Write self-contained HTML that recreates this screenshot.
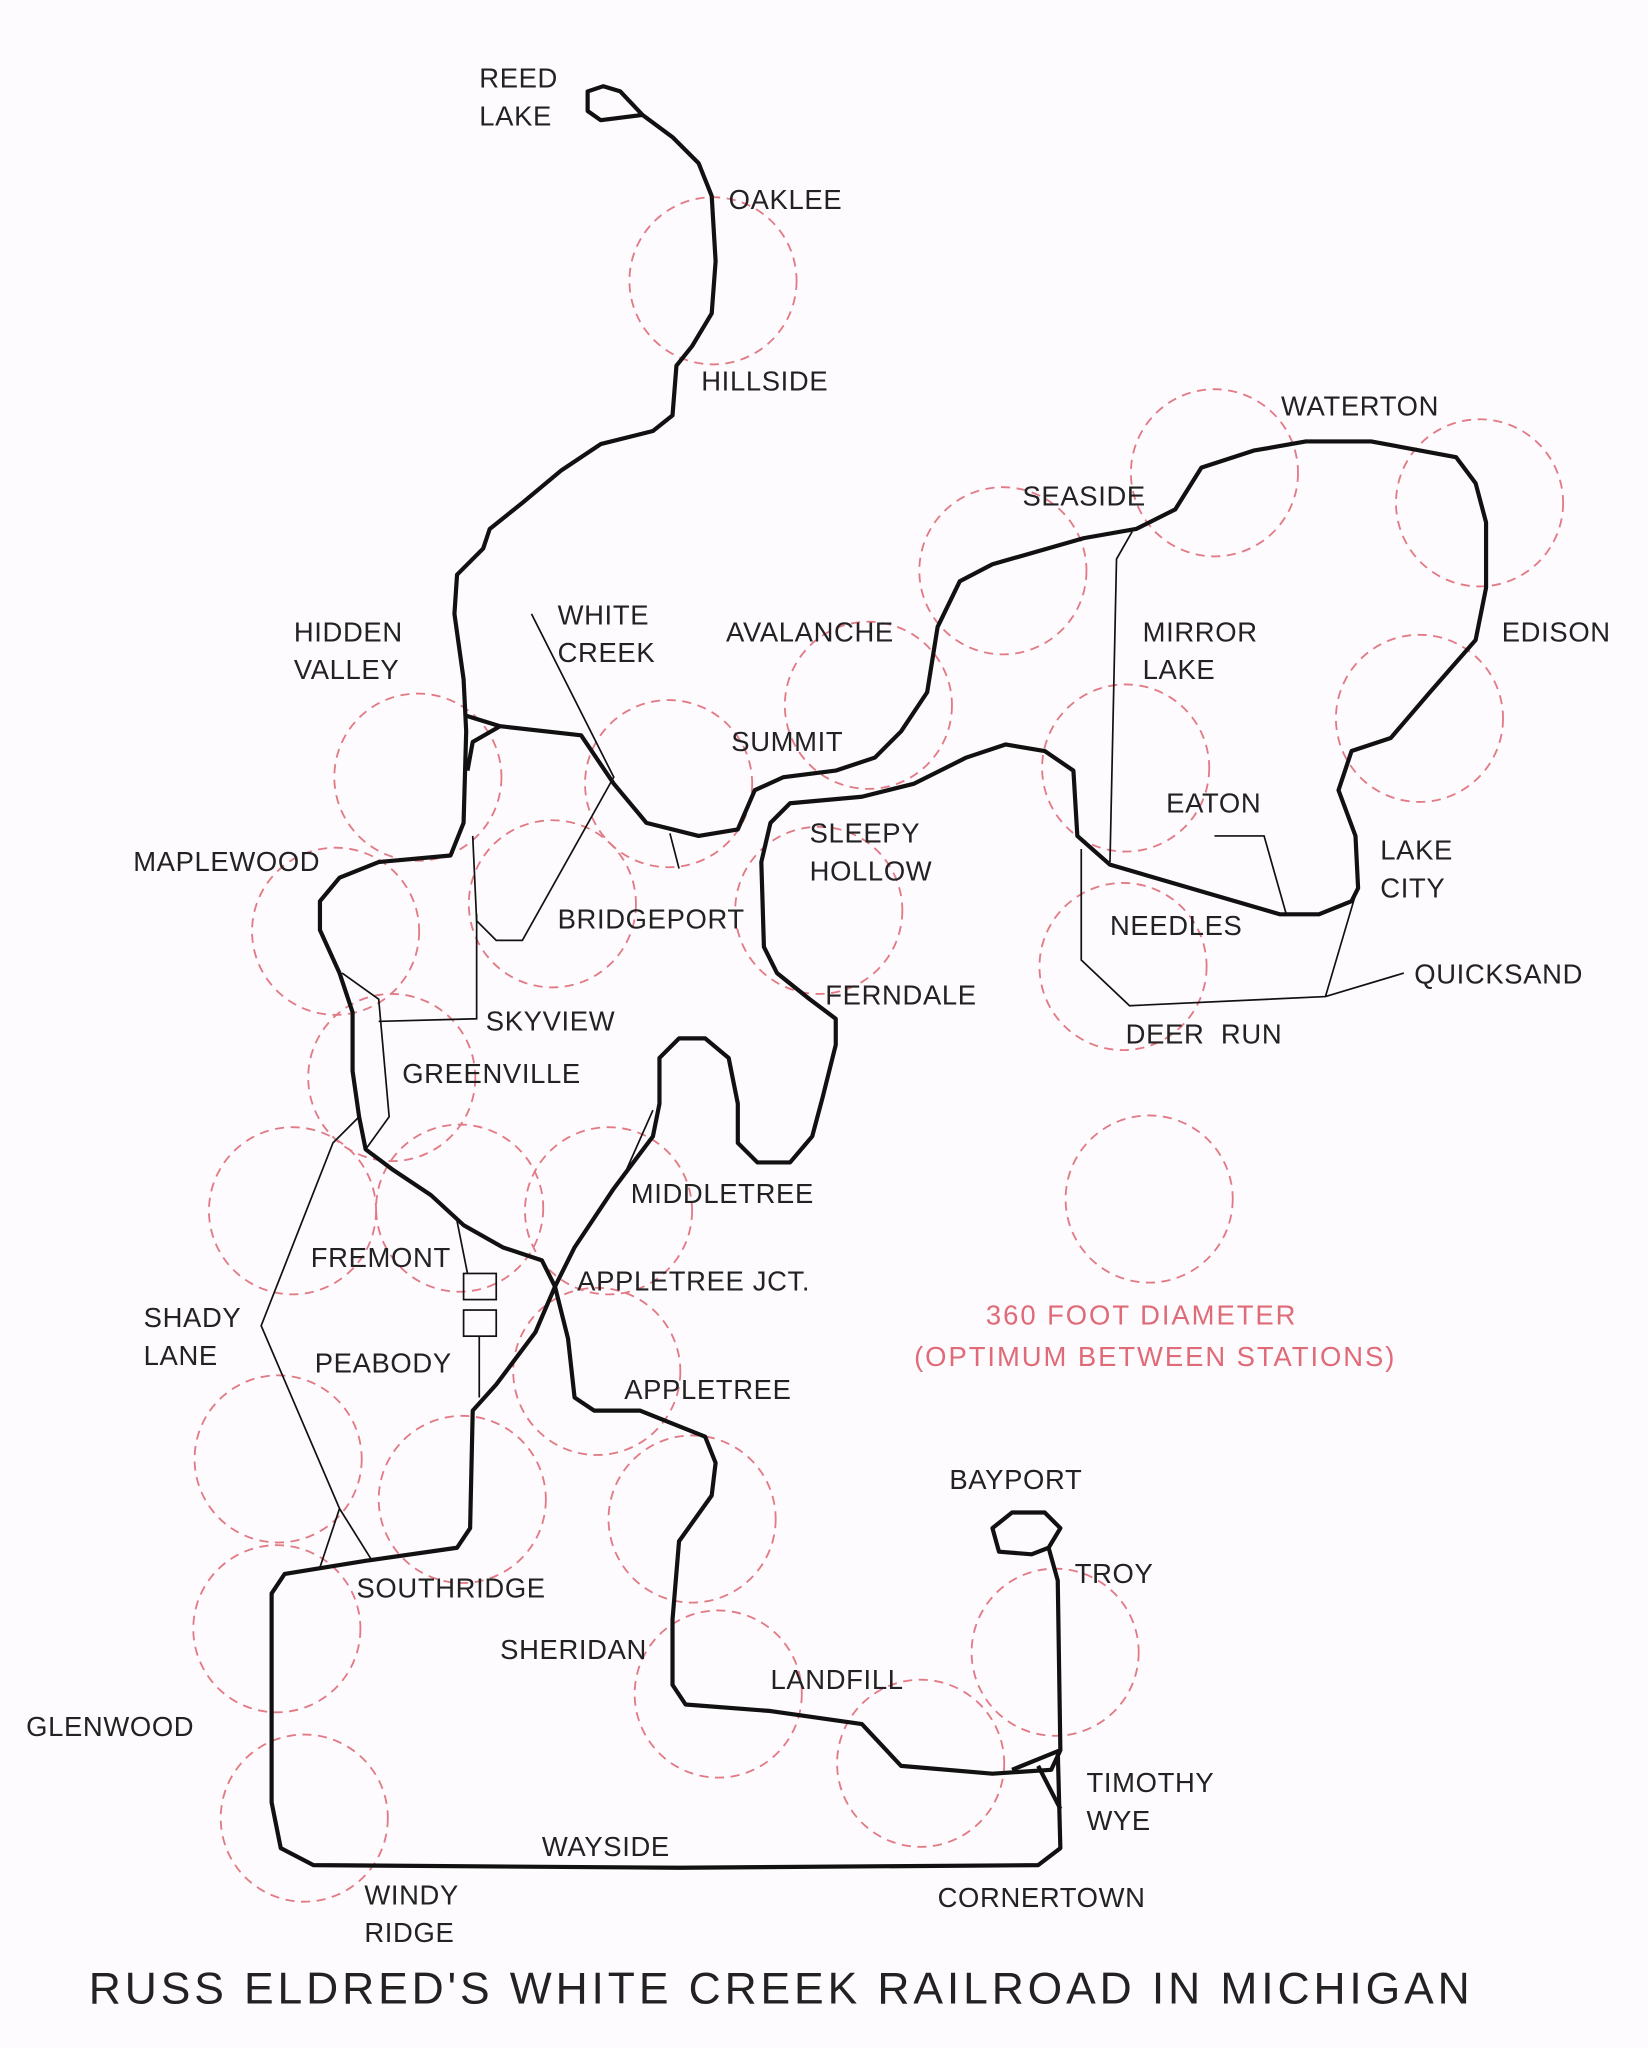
<!DOCTYPE html>
<html><head><meta charset="utf-8"><style>
html,body{margin:0;padding:0;background:#fdfbfd;}
svg{display:block}
text{font-family:"Liberation Sans",sans-serif;font-size:21px;fill:#222;letter-spacing:0.5px}
.r{fill:#e06b78;letter-spacing:1.5px}
</style></head><body>
<svg width="1648" height="2048" viewBox="0 0 1262 1568" preserveAspectRatio="none">
<rect width="1262" height="1568" fill="#fdfbfd"/>
<g fill="none" stroke="#e27a86" stroke-width="1.4" stroke-dasharray="7,5">
<circle cx="546" cy="215" r="64"/><circle cx="930" cy="362" r="64"/><circle cx="1133" cy="385" r="64"/>
<circle cx="768" cy="437" r="64"/><circle cx="665" cy="540" r="64"/><circle cx="1087" cy="550" r="64"/>
<circle cx="320" cy="595" r="64"/><circle cx="512" cy="600" r="64"/><circle cx="862" cy="588" r="64"/>
<circle cx="257" cy="713" r="64"/><circle cx="423" cy="692" r="64"/><circle cx="627" cy="697" r="64"/>
<circle cx="860" cy="740" r="64"/><circle cx="300" cy="825" r="64"/><circle cx="880" cy="918" r="64"/>
<circle cx="224" cy="927" r="64"/><circle cx="352" cy="925" r="64"/><circle cx="466" cy="927" r="64"/>
<circle cx="457" cy="1050" r="64"/><circle cx="213" cy="1117" r="64"/><circle cx="354" cy="1148" r="64"/>
<circle cx="530" cy="1163" r="64"/><circle cx="212" cy="1247" r="64"/><circle cx="550" cy="1297" r="64"/>
<circle cx="808" cy="1265" r="64"/><circle cx="705" cy="1350" r="64"/><circle cx="233" cy="1392" r="64"/>
</g>
<g fill="none" stroke="#111" stroke-width="3.2" stroke-linejoin="round">
<path d="M450,70 L462,66 L475,70 L492,88 L460,92 L450,85 Z"/>
<path d="M492,88 L515,105 L535,125 L545,150 L548,200 L545,240 L530,265 L518,280 L515,318 L500,330 L460,340 L430,360 L400,385 L375,405 L370,420 L350,440 L348,470 L355,520 L357,560 L355,630 L345,655 L290,660 L260,672 L245,690 L245,712 L260,745 L270,775 L270,820 L275,855 L280,880 L300,895 L330,915 L355,938 L385,955 L415,965 L425,985 L435,1025 L440,1070 L455,1080 L490,1080 L540,1100 L548,1120 L545,1145 L520,1180 L515,1240 L515,1290 L525,1305 L590,1310 L660,1320 L690,1352 L760,1358 L805,1355 L812,1340 L810,1210 L803,1185"/>
<path d="M803,1185 L790,1190 L765,1188 L760,1170 L775,1158 L800,1158 L812,1170 Z"/>
<path d="M810,1340 L812,1415 L795,1428 L520,1430 L240,1428 L215,1415 L208,1380 L208,1220 L218,1205 L280,1195 L350,1185 L360,1170 L362,1080 L380,1060 L410,1020 L425,985"/>
<path d="M425,985 L440,955 L470,910 L500,870 L505,845 L505,810 L520,795 L540,795 L558,810 L565,845 L565,875 L580,890 L605,890 L622,870 L630,840 L640,800 L640,780 L620,765 L595,745 L585,725 L583,660 L590,630 L605,615 L660,610 L700,600 L740,580 L770,570 L800,575 L822,590 L825,640 L850,662 L980,700 L1010,700 L1035,690 L1040,680 L1038,640 L1025,605 L1035,575 L1065,565 L1095,530 L1130,490 L1138,450 L1138,400 L1130,370 L1115,350 L1050,338 L1000,338 L960,345 L920,358 L900,390 L870,405 L830,412 L760,432 L735,445 L718,480 L710,530 L690,560 L670,580 L640,590 L600,595 L578,605 L565,635 L535,640 L495,630 L470,600 L445,563 L383,556 L357,548"/>
<path d="M383,556 L362,568 L358,590"/>
<path d="M775,1355 L812,1340 M795,1352 L812,1385"/>
</g>
<g fill="none" stroke="#111" stroke-width="1.3">
<path d="M407,470 L470,595 L400,720 L380,720 L365,705 L362,640"/>
<path d="M513,638 L520,665"/>
<path d="M365,700 L365,780 L290,782"/>
<path d="M262,745 L290,765 L298,855 L280,880"/>
<path d="M275,855 L255,875 L200,1015 L260,1155 L285,1195 M260,1155 L245,1200"/>
<path d="M350,935 L358,975 M367,1023 L367,1070"/>
<rect x="355" y="975" width="25" height="20"/><rect x="355" y="1003" width="25" height="20"/>
<path d="M480,895 L500,850"/>
<path d="M867,407 L855,428 L850,660"/>
<path d="M930,640 L968,640 L985,700"/>
<path d="M828,650 L828,735 L865,770 L1015,763 L1075,745 M1015,763 L1038,685"/>
</g>
<g>
<text x="367" y="67">REED</text><text x="367" y="96">LAKE</text>
<text x="558" y="160">OAKLEE</text>
<text x="537" y="299">HILLSIDE</text>
<text x="981" y="318">WATERTON</text>
<text x="783" y="387">SEASIDE</text>
<text x="225" y="491">HIDDEN</text><text x="225" y="520">VALLEY</text>
<text x="427" y="478">WHITE</text><text x="427" y="507">CREEK</text>
<text x="556" y="491">AVALANCHE</text>
<text x="875" y="491">MIRROR</text><text x="875" y="520">LAKE</text>
<text x="1150" y="491">EDISON</text>
<text x="560" y="575">SUMMIT</text>
<text x="893" y="622">EATON</text>
<text x="620" y="645">SLEEPY</text><text x="620" y="674">HOLLOW</text>
<text x="1057" y="658">LAKE</text><text x="1057" y="687">CITY</text>
<text x="102" y="667">MAPLEWOOD</text>
<text x="427" y="711">BRIDGEPORT</text>
<text x="850" y="716">NEEDLES</text>
<text x="1083" y="753">QUICKSAND</text>
<text x="632" y="769">FERNDALE</text>
<text x="372" y="789">SKYVIEW</text>
<text x="862" y="799">DEER&#160;&#160;RUN</text>
<text x="308" y="829">GREENVILLE</text>
<text x="483" y="921">MIDDLETREE</text>
<text x="238" y="970">FREMONT</text>
<text x="442" y="988">APPLETREE JCT.</text>
<text class="r" x="755" y="1014">360 FOOT DIAMETER</text>
<text class="r" x="700" y="1046">(OPTIMUM BETWEEN STATIONS)</text>
<text x="110" y="1016">SHADY</text><text x="110" y="1045">LANE</text>
<text x="241" y="1051">PEABODY</text>
<text x="478" y="1071">APPLETREE</text>
<text x="727" y="1140">BAYPORT</text>
<text x="823" y="1212">TROY</text>
<text x="273" y="1223">SOUTHRIDGE</text>
<text x="383" y="1270">SHERIDAN</text>
<text x="590" y="1293">LANDFILL</text>
<text x="20" y="1329">GLENWOOD</text>
<text x="832" y="1372">TIMOTHY</text><text x="832" y="1401">WYE</text>
<text x="415" y="1421">WAYSIDE</text>
<text x="718" y="1460">CORNERTOWN</text>
<text x="279" y="1458">WINDY</text><text x="279" y="1487">RIDGE</text>
<text x="68" y="1534" style="font-size:34px;letter-spacing:3.0px">RUSS ELDRED'S WHITE CREEK RAILROAD IN MICHIGAN</text>
</g>
</svg>
</body></html>
